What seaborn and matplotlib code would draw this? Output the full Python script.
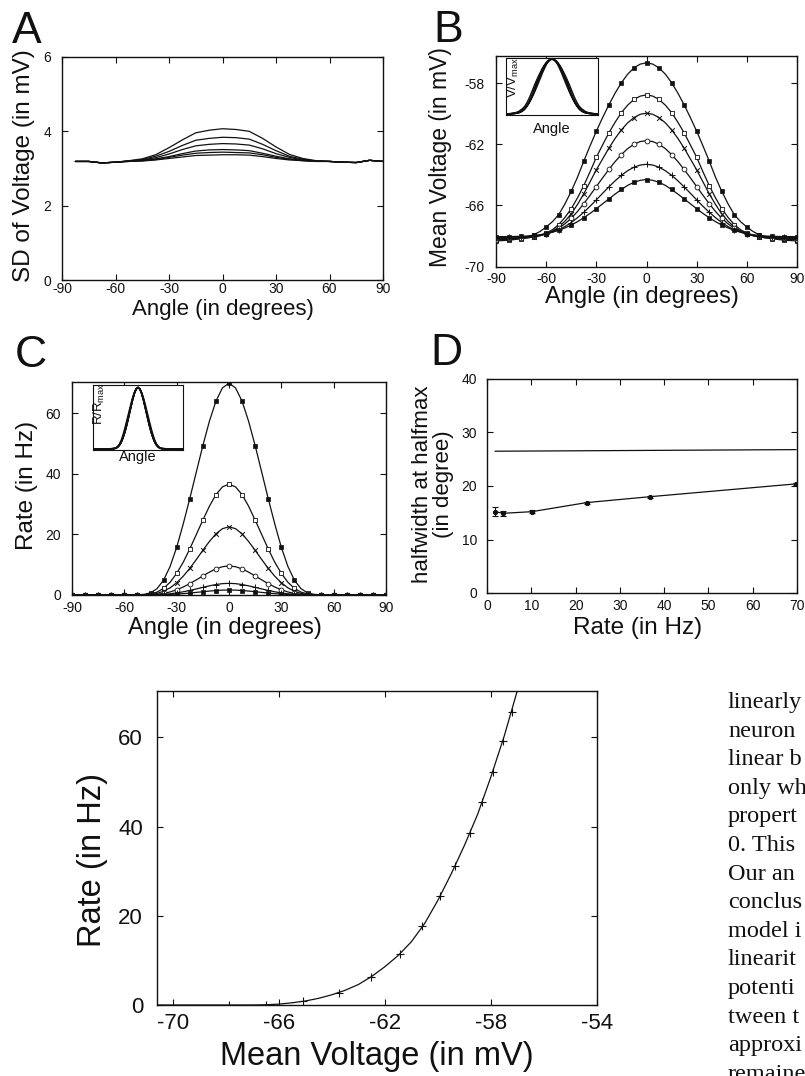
import numpy as np
import pandas as pd
import matplotlib
matplotlib.use("Agg")
import matplotlib.pyplot as plt
import seaborn as sns

# ---------------- DATA ----------------
# Panel A : SD of voltage vs angle (6 contrasts)
ANG_A = [-82.5, -75, -67.5, -60, -52.5, -45, -37.5, -30, -22.5, -15, -7.5, 0,
         7.5, 15, 22.5, 30, 37.5, 45, 52.5, 60, 67.5, 75, 82.5, 90]
SD1 = [3.19, 3.19, 3.15, 3.17, 3.21, 3.26, 3.37, 3.56, 3.77, 3.96, 4.03, 4.07, 4.05, 4.00, 3.81, 3.58, 3.38, 3.27, 3.21, 3.19, 3.17, 3.16, 3.22, 3.19]
SD2 = [3.19, 3.19, 3.15, 3.17, 3.20, 3.24, 3.33, 3.46, 3.62, 3.76, 3.81, 3.84, 3.83, 3.79, 3.65, 3.48, 3.33, 3.25, 3.20, 3.19, 3.17, 3.16, 3.22, 3.19]
SD3 = [3.19, 3.19, 3.15, 3.17, 3.20, 3.23, 3.29, 3.39, 3.51, 3.61, 3.65, 3.67, 3.66, 3.63, 3.53, 3.40, 3.30, 3.23, 3.20, 3.19, 3.17, 3.16, 3.22, 3.19]
SD4 = [3.19, 3.19, 3.15, 3.17, 3.20, 3.22, 3.26, 3.32, 3.40, 3.47, 3.50, 3.51, 3.50, 3.48, 3.41, 3.33, 3.26, 3.22, 3.20, 3.19, 3.17, 3.16, 3.22, 3.19]
SD5 = [3.19, 3.19, 3.15, 3.17, 3.19, 3.21, 3.24, 3.30, 3.36, 3.41, 3.43, 3.44, 3.43, 3.42, 3.37, 3.30, 3.25, 3.21, 3.19, 3.19, 3.17, 3.16, 3.22, 3.19]
SD6 = [3.19, 3.19, 3.15, 3.17, 3.19, 3.20, 3.23, 3.27, 3.31, 3.35, 3.36, 3.37, 3.37, 3.36, 3.32, 3.27, 3.23, 3.21, 3.19, 3.19, 3.17, 3.16, 3.22, 3.19]

# Panels B and C : tuning curves sampled every 3.75 degrees
ANG = [-90, -86.25, -82.5, -78.75, -75, -71.25, -67.5, -63.75, -60, -56.25, -52.5, -48.75,
       -45, -41.25, -37.5, -33.75, -30, -26.25, -22.5, -18.75, -15, -11.25, -7.5, -3.75, 0,
       3.75, 7.5, 11.25, 15, 18.75, 22.5, 26.25, 30, 33.75, 37.5, 41.25, 45, 48.75, 52.5,
       56.25, 60, 63.75, 67.5, 71.25, 75, 78.75, 82.5, 86.25, 90]

V1 = [-68.33, -68.30, -68.28, -68.23, -68.16, -68.06, -67.92, -67.71, -67.41, -67.06, -66.60, -65.89, -65.07, -64.14, -63.09, -62.09, -61.13, -60.24, -59.40, -58.63, -57.95, -57.39, -56.98, -56.73,
      -56.65,
      -56.73, -56.98, -57.39, -57.95, -58.63, -59.40, -60.24, -61.13, -62.09, -63.09, -64.14, -65.07, -65.89, -66.60, -67.06, -67.41, -67.71, -67.92, -68.06, -68.16, -68.23, -68.28, -68.30, -68.33]
V2 = [-68.24, -68.23, -68.22, -68.20, -68.17, -68.13, -68.06, -67.97, -67.81, -67.59, -67.25, -66.78, -66.21, -65.50, -64.69, -63.79, -62.84, -62.03, -61.24, -60.54, -59.91, -59.42, -59.05, -58.83,
      -58.75,
      -58.83, -59.05, -59.42, -59.91, -60.54, -61.24, -62.03, -62.84, -63.79, -64.69, -65.50, -66.21, -66.78, -67.25, -67.59, -67.81, -67.97, -68.06, -68.13, -68.17, -68.20, -68.22, -68.23, -68.24]
V3 = [-68.19, -68.18, -68.18, -68.17, -68.14, -68.11, -68.06, -67.99, -67.86, -67.68, -67.41, -67.03, -66.55, -65.93, -65.23, -64.45, -63.66, -62.95, -62.24, -61.60, -61.04, -60.58, -60.24, -60.02,
      -59.95,
      -60.02, -60.24, -60.58, -61.04, -61.60, -62.24, -62.95, -63.66, -64.45, -65.23, -65.93, -66.55, -67.03, -67.41, -67.68, -67.86, -67.99, -68.06, -68.11, -68.14, -68.17, -68.18, -68.18, -68.19]
V4 = [-68.14, -68.14, -68.13, -68.12, -68.10, -68.07, -68.03, -67.96, -67.86, -67.70, -67.49, -67.20, -66.84, -66.39, -65.88, -65.33, -64.76, -64.19, -63.64, -63.12, -62.66, -62.27, -61.99, -61.81,
      -61.75,
      -61.81, -61.99, -62.27, -62.66, -63.12, -63.64, -64.19, -64.76, -65.33, -65.88, -66.39, -66.84, -67.20, -67.49, -67.70, -67.86, -67.96, -68.03, -68.07, -68.10, -68.12, -68.13, -68.14, -68.14]
V5 = [-68.10, -68.09, -68.09, -68.08, -68.06, -68.04, -68.00, -67.95, -67.87, -67.75, -67.59, -67.38, -67.12, -66.80, -66.44, -66.05, -65.63, -65.20, -64.78, -64.38, -64.02, -63.72, -63.49, -63.35,
      -63.30,
      -63.35, -63.49, -63.72, -64.02, -64.38, -64.78, -65.20, -65.63, -66.05, -66.44, -66.80, -67.12, -67.38, -67.59, -67.75, -67.87, -67.95, -68.00, -68.04, -68.06, -68.08, -68.09, -68.09, -68.10]
V6 = [-68.05, -68.04, -68.04, -68.03, -68.02, -68.00, -67.96, -67.92, -67.84, -67.75, -67.63, -67.47, -67.28, -67.06, -66.80, -66.52, -66.21, -65.89, -65.57, -65.25, -64.95, -64.68, -64.48, -64.35,
      -64.30,
      -64.35, -64.48, -64.68, -64.95, -65.25, -65.57, -65.89, -66.21, -66.52, -66.80, -67.06, -67.28, -67.47, -67.63, -67.75, -67.84, -67.92, -67.96, -68.00, -68.02, -68.03, -68.04, -68.04, -68.05]

R1 = [0, 0, 0, 0, 0, 0, 0, 0, 0, 0, 0.07, 0.21, 0.70, 2.10, 4.89, 9.44, 15.73, 23.42, 31.80, 40.54, 49.28, 57.32, 63.96, 68.36,
      69.9,
      68.36, 63.96, 57.32, 49.28, 40.54, 31.80, 23.42, 15.73, 9.44, 4.89, 2.10, 0.70, 0.21, 0.07, 0, 0, 0, 0, 0, 0, 0, 0, 0, 0]
R2 = [0, 0, 0, 0, 0, 0, 0, 0, 0, 0, 0.04, 0.11, 0.33, 0.95, 2.20, 4.21, 7.14, 10.80, 15.19, 19.95, 24.71, 29.28, 33.12, 35.69,
      36.6,
      35.69, 33.12, 29.28, 24.71, 19.95, 15.19, 10.80, 7.14, 4.21, 2.20, 0.95, 0.33, 0.11, 0.04, 0, 0, 0, 0, 0, 0, 0, 0, 0, 0]
R3 = [0, 0, 0, 0, 0, 0, 0, 0, 0, 0, 0.02, 0.07, 0.20, 0.54, 1.24, 2.36, 4.05, 6.19, 8.78, 11.70, 14.74, 17.66, 20.18, 21.89,
      22.5,
      21.89, 20.18, 17.66, 14.74, 11.70, 8.78, 6.19, 4.05, 2.36, 1.24, 0.54, 0.20, 0.07, 0.02, 0, 0, 0, 0, 0, 0, 0, 0, 0, 0]
R4 = [0, 0, 0, 0, 0, 0, 0, 0, 0, 0, 0.01, 0.03, 0.09, 0.23, 0.53, 1.01, 1.73, 2.64, 3.74, 4.99, 6.29, 7.54, 8.61, 9.34,
      9.6,
      9.34, 8.61, 7.54, 6.29, 4.99, 3.74, 2.64, 1.73, 1.01, 0.53, 0.23, 0.09, 0.03, 0.01, 0, 0, 0, 0, 0, 0, 0, 0, 0, 0]
R5 = [0, 0, 0, 0, 0, 0, 0, 0, 0, 0, 0, 0.01, 0.03, 0.09, 0.21, 0.40, 0.69, 1.06, 1.50, 2.00, 2.52, 3.02, 3.45, 3.75,
      3.85,
      3.75, 3.45, 3.02, 2.52, 2.00, 1.50, 1.06, 0.69, 0.40, 0.21, 0.09, 0.03, 0.01, 0, 0, 0, 0, 0, 0, 0, 0, 0, 0, 0]
R6 = [0, 0, 0, 0, 0, 0, 0, 0, 0, 0, 0, 0, 0.01, 0.04, 0.09, 0.17, 0.30, 0.45, 0.64, 0.86, 1.08, 1.30, 1.48, 1.61,
      1.65,
      1.61, 1.48, 1.30, 1.08, 0.86, 0.64, 0.45, 0.30, 0.17, 0.09, 0.04, 0.01, 0, 0, 0, 0, 0, 0, 0, 0, 0, 0, 0, 0]

# Panel D : halfwidth at halfmax vs peak rate
D_RATE = [1.8, 3.7, 10.1, 22.5, 36.8, 69.8]
D_HW = [15.2, 14.9, 15.2, 16.9, 18.0, 20.4]
D_ERR = [0.9, 0.5, 0.3, 0.2, 0.2, 0.2]
D_V_RATE = [1.8, 69.8]
D_V_HW = [26.5, 26.8]

# Panel E : rate vs mean voltage
E_V_LINE = [-70.6, -68.0, -67.0, -66.5, -66.0, -65.5, -65.0, -64.5, -64.0, -63.5, -63.0, -62.5,
            -62.0, -61.5, -61.0, -60.5, -60.0, -59.5, -59.0, -58.5, -58.0, -57.5, -57.0, -56.8]
E_R_LINE = [0, 0, 0, 0.05, 0.2, 0.5, 0.9, 1.5, 2.3, 3.3, 4.6, 6.4, 8.6, 11.1, 14.2, 18.3, 23.5,
            29.4, 35.8, 42.8, 51.2, 60.3, 70.6, 75.0]
E_V_PTS = [-67.9, -66.5, -65.08, -63.72, -62.54, -61.43, -60.62, -59.92, -59.36, -58.79, -58.35, -57.94, -57.56, -57.22]
E_R_PTS = [0, 0, 0.9, 2.8, 6.3, 11.4, 17.7, 24.4, 31.2, 38.5, 45.5, 52.3, 59.1, 65.7]

# visible part of the page's body text column (cut by the page edge)
TEXT_LINES = ["linearly", "neuron", "linear b", "only wh", "propert", "0. This",
              "Our an", "conclus", "model i", "linearit", "potenti",
              "tween t", "approxi", "remaine"]

SD_CURVES = [SD1, SD2, SD3, SD4, SD5, SD6]
V_CURVES = [V1, V2, V3, V4, V5, V6]
R_CURVES = [R1, R2, R3, R4, R5, R6]

# ---------------- STYLE ----------------
sns.set_style("ticks")
plt.rcParams['font.family'] = ['Liberation Sans', 'DejaVu Sans']
plt.rcParams['mathtext.default'] = 'regular'
plt.rcParams['axes.unicode_minus'] = False

W, H = 805, 1076
fig = plt.figure(figsize=(W / 100, H / 100), dpi=100)
fig.patch.set_facecolor('white')
INK = '#111111'


def rect(l, t, r, b):
    return [l / W, 1 - b / H, (r - l) / W, (b - t) / H]


def ftext(x, y, s, **kw):
    kw.setdefault('ha', 'center')
    kw.setdefault('va', 'center')
    kw.setdefault('color', INK)
    fig.text(x / W, 1 - y / H, s, **kw)


def style(ax, fs, xpad=4, ypad=7, length=4):
    ax.tick_params(direction='in', top=True, right=True, length=length, width=0.8,
                   labelsize=fs, colors=INK)
    ax.tick_params(axis='x', pad=xpad)
    ax.tick_params(axis='y', pad=ypad)
    for s in ax.spines.values():
        s.set_linewidth(1.0)
        s.set_color(INK)
    ax.set_xlabel('')
    ax.set_ylabel('')


MK = [dict(marker='s', s=9, color=INK, edgecolor=INK, linewidth=0.5),
      dict(marker='s', s=12, color='white', edgecolor=INK, linewidth=0.6),
      dict(marker='x', s=12, color=INK, linewidth=0.7),
      dict(marker='o', s=12, color='white', edgecolor=INK, linewidth=0.6),
      dict(marker='+', s=16, color=INK, linewidth=0.7),
      dict(marker='s', s=9, color=INK, edgecolor=INK, linewidth=0.5)]

ANG_TICKS = [-90, -60, -30, 0, 30, 60, 90]

# ---------------- PANEL A ----------------
axA = fig.add_axes(rect(62, 57, 383, 280))
for c in SD_CURVES:
    sns.lineplot(x=ANG_A, y=c, ax=axA, color=INK, linewidth=0.9, errorbar=None)
axA.set_xlim(-90, 90)
axA.set_ylim(0, 6)
axA.set_xticks(ANG_TICKS)
axA.set_xticklabels([str(t) for t in ANG_TICKS])
axA.set_yticks([0, 2, 4, 6])
style(axA, 10, xpad=1.5, ypad=8)
ftext(24, 166, 'SD of Voltage (in mV)', rotation=90, fontsize=17.5)
ftext(223, 309, 'Angle (in degrees)', fontsize=16)
ftext(12, 43, 'A', ha='left', va='baseline', fontsize=32)

# ---------------- PANEL B ----------------
axB = fig.add_axes(rect(496, 56, 797, 266.5))
for c, mk in zip(V_CURVES, MK):
    sns.lineplot(x=ANG, y=c, ax=axB, color=INK, linewidth=0.9, errorbar=None)
    sns.scatterplot(x=ANG[::2], y=c[::2], ax=axB, zorder=3, **mk)
axB.set_xlim(-90, 90)
axB.set_ylim(-70, -56.2)
axB.set_xticks(ANG_TICKS)
axB.set_xticklabels([str(t) for t in ANG_TICKS])
axB.set_yticks([-70, -66, -62, -58])
axB.set_yticklabels(['-70', '-66', '-62', '-58'])
style(axB, 10, xpad=4, ypad=8)
ftext(441, 157, 'Mean Voltage (in mV)', rotation=90, fontsize=16.5)
ftext(642, 297, 'Angle (in degrees)', fontsize=17)
ftext(433, 42, 'B', ha='left', va='baseline', fontsize=32)

axBi = fig.add_axes(rect(506, 58, 598, 115))
for c in V_CURVES:
    a = np.asarray(c)
    sns.lineplot(x=ANG, y=(a - a.min()) / (a.max() - a.min()), ax=axBi, color=INK,
                 linewidth=1.1, errorbar=None)
axBi.set_xlim(-90, 90)
axBi.set_ylim(-0.02, 1.02)
axBi.set_xticks([])
axBi.set_yticks([])
axBi.set_xlabel('')
axBi.set_ylabel('')
for s in axBi.spines.values():
    s.set_linewidth(0.8)
    s.set_color(INK)
ftext(513, 78, 'V/V$_{max}$', rotation=90, fontsize=9.5)
ftext(552, 129, 'Angle', fontsize=10.5)

# ---------------- PANEL C ----------------
axC = fig.add_axes(rect(72, 382, 386, 595))
for c, mk in zip(R_CURVES, MK):
    sns.lineplot(x=ANG, y=c, ax=axC, color=INK, linewidth=0.9, errorbar=None)
    sns.scatterplot(x=ANG[::2], y=c[::2], ax=axC, zorder=3, **mk)
axC.set_xlim(-90, 90)
axC.set_ylim(0, 70.3)
axC.set_xticks(ANG_TICKS)
axC.set_xticklabels([str(t) for t in ANG_TICKS])
axC.set_yticks([0, 20, 40, 60])
style(axC, 10, xpad=4, ypad=8)
ftext(27, 485, 'Rate (in Hz)', rotation=90, fontsize=17.5)
ftext(225, 628, 'Angle (in degrees)', fontsize=17)
ftext(15, 367, 'C', ha='left', va='baseline', fontsize=32)

axCi = fig.add_axes(rect(93, 385, 183, 450))
for c in R_CURVES:
    a = np.asarray(c)
    sns.lineplot(x=ANG, y=a / a.max(), ax=axCi, color=INK, linewidth=1.1, errorbar=None)
axCi.set_xlim(-90, 90)
axCi.set_ylim(-0.02, 1.04)
axCi.set_xticks([])
axCi.set_yticks([])
axCi.set_xlabel('')
axCi.set_ylabel('')
for s in axCi.spines.values():
    s.set_linewidth(0.8)
    s.set_color(INK)
ftext(99, 404, 'R/R$_{max}$', rotation=90, fontsize=9.5)
ftext(138, 457, 'Angle', fontsize=10.5)

# ---------------- PANEL D ----------------
axD = fig.add_axes(rect(487, 379, 797, 593))
sns.lineplot(x=D_V_RATE, y=D_V_HW, ax=axD, color=INK, linewidth=0.9, errorbar=None)
sns.lineplot(x=D_RATE, y=D_HW, ax=axD, color=INK, linewidth=0.9, errorbar=None,
             marker='o', markersize=3, markeredgecolor=INK)
axD.errorbar(D_RATE, D_HW, yerr=D_ERR, fmt='none', ecolor=INK, elinewidth=0.8,
             capsize=2, capthick=0.8)
axD.set_xlim(0, 70)
axD.set_ylim(0, 40)
axD.set_xticks([0, 10, 20, 30, 40, 50, 60, 70])
axD.set_yticks([0, 10, 20, 30, 40])
style(axD, 10, xpad=4, ypad=7)
ftext(433, 484, 'halfwidth at halfmax\n(in degree)', rotation=90, fontsize=16,
      linespacing=1.0, multialignment='center')
ftext(638, 628, 'Rate (in Hz)', fontsize=17.5)
ftext(430, 365, 'D', ha='left', va='baseline', fontsize=32)

# ---------------- PANEL E ----------------
axE = fig.add_axes(rect(157, 691, 597, 1005))
sns.lineplot(x=E_V_LINE, y=E_R_LINE, ax=axE, color=INK, linewidth=0.9, errorbar=None)
sns.scatterplot(x=E_V_PTS, y=E_R_PTS, ax=axE, marker='+', s=30, color=INK,
                linewidth=0.8, zorder=3)
axE.set_xlim(-70.6, -54)
axE.set_ylim(0, 70.4)
axE.set_xticks([-70, -66, -62, -58, -54])
axE.set_xticklabels(['-70', '-66', '-62', '-58', '-54'])
axE.set_yticks([0, 20, 40, 60])
style(axE, 16, xpad=6, ypad=10, length=4)
ftext(92, 860, 'Rate (in Hz)', rotation=90, fontsize=23.5)
ftext(377, 1056, 'Mean Voltage (in mV)', fontsize=23.5)

# ---------------- body text column ----------------
for i, line in enumerate(TEXT_LINES):
    fig.text(728 / W, 1 - (708 + 28.6 * i) / H, line, ha='left', va='baseline',
             fontsize=17.5, family=['Liberation Serif', 'DejaVu Serif'], color=INK)

fig.savefig('out.png', dpi=100, facecolor='white')
